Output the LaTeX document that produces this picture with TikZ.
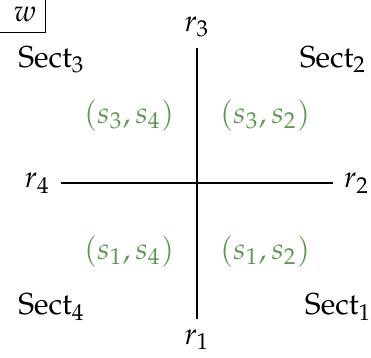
\documentclass[tikz,border=0pt]{standalone}
\usepackage[T1]{fontenc}
\usepackage{mathpazo}
\usepackage{xcolor}
\usepackage{tikz}
\usetikzlibrary{positioning, calc}
\definecolor{pairgreen}{RGB}{96,150,84}
\tikzstyle{axis}=[semithick, color=black]
\tikzstyle{pair}=[color=pairgreen]

\begin{document}
\begin{tikzpicture}
  \useasboundingbox (-2.29,-2.02) rectangle (2.02,2.13);

  % Corner label
  \node (w) at (-2.00,1.96) {$w$};
  \draw ($(w.south west)+(-0.08,0)$) -| (-1.76,2.13);

  % Axes
  \coordinate (O) at (0,0);
  \draw[axis] (-1.58,0) node[left]{$r_4$} -- (1.58,0) node[right]{$r_2$};
  \draw[axis] (0,-1.57) node[below]{$r_1$} -- (0,1.57) node[above]{$r_3$};

  % Sectors
  \node (sect2) at (1.58,1.44)   {Sect$_2$};
  \node (sect3) at (-1.69,1.44)  {Sect$_3$};
  \node (sect4) at (-1.69,-1.44) {Sect$_4$};
  \node (sect1) at (1.64,-1.44)  {Sect$_1$};

  % Pairs
  \node[pair] (p32) at (0.79,0.79)   {$(s_3,s_2)$};
  \node[pair] (p34) at (-0.79,0.79)  {$(s_3,s_4)$};
  \node[pair] (p14) at (-0.79,-0.79) {$(s_1,s_4)$};
  \node[pair] (p12) at (0.79,-0.79)  {$(s_1,s_2)$};
\end{tikzpicture}
\end{document}
